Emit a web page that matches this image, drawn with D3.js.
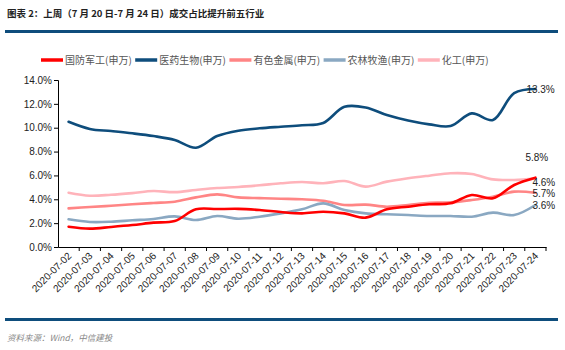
<!DOCTYPE html>
<html><head><meta charset="utf-8">
<script src="https://cdn.jsdelivr.net/npm/d3@7"></script>
<style>
body{margin:0;background:#fff;}
svg{display:block;font-family:"Liberation Sans",Arial,sans-serif;}
</style></head>
<body><svg id="c" width="565" height="350"></svg>
<script>
const categories = ["2020-07-02","2020-07-03","2020-07-04","2020-07-05","2020-07-06","2020-07-07","2020-07-08","2020-07-09","2020-07-10","2020-07-11","2020-07-12","2020-07-13","2020-07-14","2020-07-15","2020-07-16","2020-07-17","2020-07-18","2020-07-19","2020-07-20","2020-07-21","2020-07-22","2020-07-23","2020-07-24"];
const seriesNames = ["国防军工(申万)","医药生物(申万)","有色金属(申万)","农林牧渔(申万)","化工(申万)"];
const seriesColors = ["#FF0000","#0E4D7C","#FF8585","#8AA8C2","#FFB3BA"];
const defense  = [1.70,1.54,1.68,1.84,2.04,2.18,3.16,3.18,3.20,3.10,2.93,2.82,2.96,2.82,2.46,3.16,3.38,3.58,3.66,4.36,4.08,5.20,5.81];
const pharma   = [10.50,9.90,9.72,9.53,9.30,8.97,8.32,9.30,9.75,9.95,10.08,10.20,10.40,11.75,11.70,11.06,10.60,10.28,10.14,11.20,10.65,12.90,13.25];
const metals   = [3.24,3.35,3.46,3.58,3.69,3.80,4.16,4.41,4.16,4.10,4.05,4.00,3.88,3.52,3.55,3.38,3.52,3.71,3.74,3.94,4.22,4.64,4.55];
const farming  = [2.32,2.10,2.12,2.24,2.35,2.57,2.26,2.60,2.37,2.54,2.82,3.16,3.66,3.10,2.82,2.74,2.68,2.60,2.60,2.54,2.88,2.68,3.52];
const chemical = [4.55,4.30,4.38,4.52,4.69,4.60,4.78,4.94,5.03,5.17,5.34,5.45,5.34,5.53,5.06,5.48,5.76,5.98,6.18,6.12,5.67,5.62,5.73];
const endLabels = ["5.8%","13.3%","4.6%","3.6%","5.7%"];
const yTicks = [0,2,4,6,8,10,12,14];

const allSeries = [defense, pharma, metals, farming, chemical];
const svg = d3.select("#c");

// header
svg.append("text").attr("x",7).attr("y",17).attr("font-family","'Noto Sans CJK SC',sans-serif")
  .attr("font-size",9.5).attr("font-weight","bold").attr("fill","#222")
  .text("图表 2：上周（7 月 20 日-7 月 24 日）成交占比提升前五行业");
svg.append("rect").attr("x",5).attr("y",30).attr("width",553).attr("height",3).attr("fill","#0E4D7C");
svg.append("rect").attr("x",5).attr("y",318).attr("width",553).attr("height",3).attr("fill","#0E4D7C");
svg.append("text").attr("x",7).attr("y",341).attr("font-family","'Noto Sans CJK SC',sans-serif")
  .attr("font-size",8.5).attr("font-style","italic").attr("fill","#888")
  .text("资料来源：Wind，中信建投");

const x = d3.scaleBand().domain(categories).range([58,546]).padding(0);
const y = d3.scaleLinear().domain([0,14]).range([247,80]);

// y axis
const ya = svg.append("g").attr("transform","translate(58,0)")
  .call(d3.axisLeft(y).tickValues(yTicks).tickSize(4).tickFormat(d=>d.toFixed(1)+"%"));
ya.select(".domain").attr("stroke","#000");
ya.selectAll(".tick line").attr("stroke","#000");
ya.selectAll(".tick text").attr("font-size",10).attr("fill","#222").attr("font-family","'Liberation Sans',Arial,sans-serif").attr("x",-6);

// x axis
const xa = svg.append("g").attr("transform","translate(0,247)")
  .call(d3.axisBottom(x).tickSize(0).tickSizeOuter(0));
xa.select(".domain").attr("stroke","#000");
xa.selectAll(".tick text").attr("font-size",10).attr("fill","#222").attr("font-family","'Liberation Sans',Arial,sans-serif")
  .attr("text-anchor","end").attr("transform","translate(1,7) rotate(-45)").attr("x",0).attr("dy","0.35em").attr("y",0);
// boundary ticks
xa.selectAll(".bt").data(categories).enter().append("line").attr("class","bt")
  .attr("x1",d=>x(d)+x.bandwidth()).attr("x2",d=>x(d)+x.bandwidth()).attr("y1",0).attr("y2",4).attr("stroke","#000");

// lines
const line = d3.line().x((d,i)=>x(categories[i])+x.bandwidth()/2).y(d=>y(d)).curve(d3.curveCatmullRom.alpha(0.5));
const drawOrder = [4,2,3,0,1];
drawOrder.forEach(k=>{
  svg.append("path").datum(allSeries[k]).attr("d",line).attr("fill","none")
    .attr("stroke",seriesColors[k]).attr("stroke-width",2.6).attr("stroke-linejoin","round").attr("stroke-linecap","round");
});

// end labels
const lastX = x(categories[categories.length-1])+x.bandwidth()/2;
const labelRef = [
  {t:endLabels[0], v:defense[22], dx:-10, dy:-20},
  {t:endLabels[1], v:pharma[22], dx:-9, dy:1},
  {t:endLabels[2], v:chemical[22], dx:-3, dy:4},
  {t:endLabels[3], v:farming[22], dx:-3, dy:0},
  {t:endLabels[4], v:metals[22], dx:-3, dy:1}
];
labelRef.forEach(l=>{
  svg.append("text").attr("x",lastX+l.dx).attr("y",y(l.v)+l.dy).attr("dy","0.35em")
    .attr("font-size",10).attr("fill","#222").text(l.t);
});

// legend
const lg = svg.append("g");
seriesNames.forEach((n,k)=>{
  const lx = 41 + k*94.2;
  lg.append("line").attr("x1",lx).attr("x2",lx+22).attr("y1",60).attr("y2",60)
    .attr("stroke",seriesColors[k]).attr("stroke-width",3.5);
  lg.append("text").attr("x",lx+24).attr("y",60).attr("dy","0.35em")
    .attr("font-family","'Noto Sans CJK SC',sans-serif").attr("font-size",10).attr("fill","#555").text(n);
});
</script></body></html>
